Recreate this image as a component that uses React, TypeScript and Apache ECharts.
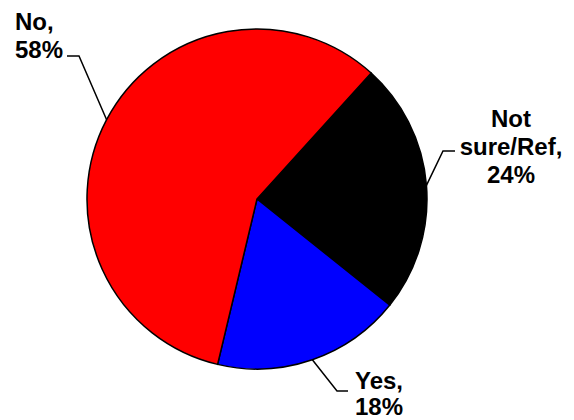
import React, { useEffect, useRef } from "react";
import * as echarts from "echarts";

const categories = ["Not sure/Ref", "Yes", "No"];
const labelTexts = ["Not\nsure/Ref", "Yes", "No"];
const values = [24, 18, 58];
const colors = ["#000000", "#0000FF", "#FF0000"];

// label placement (layout only)
const labelLayouts: Record<string, any> = {
  "Not sure/Ref": { x: 511, y: 104, align: "center", lineHeight: 28, elbow: [443, 151], end: [455, 151] },
  Yes: { x: 379, y: 367, align: "center", lineHeight: 26, elbow: [337, 391], end: [348, 391] },
  No: { x: 15, y: 7, align: "left", lineHeight: 28, elbow: [79, 56], end: [67, 56] },
};

export default function App() {
  const ref = useRef<HTMLDivElement>(null);
  useEffect(() => {
    if (!ref.current) return;
    const chart = echarts.init(ref.current, null, { renderer: "svg" });
    const data = categories.map((c, i) => ({
      name: c,
      value: values[i],
      itemStyle: { color: colors[i] },
      label: { lineHeight: labelLayouts[c].lineHeight },
    }));
    chart.setOption({
      animation: false,
      backgroundColor: "#ffffff",
      series: [
        {
          type: "pie",
          center: [257, 199],
          radius: 170,
          startAngle: 47.8,
          clockwise: true,
          avoidLabelOverlap: false,
          data,
          itemStyle: { borderColor: "#000000", borderWidth: 1.5 },
          emphasis: { disabled: true },
          label: {
            show: true,
            position: "outside",
            color: "#000000",
            fontFamily: "Liberation Sans, Arial, sans-serif",
            fontWeight: "bold",
            fontSize: 24,
            lineHeight: 28,
            formatter: (p: any) => {
              const idx = categories.indexOf(p.name);
              return `${labelTexts[idx]},\n${p.value}%`;
            },
          },
          labelLine: {
            show: true,
            length: 10,
            length2: 10,
            smooth: false,
            lineStyle: { color: "#000000", width: 1.5 },
          },
          labelLayout: (params: any) => {
            const name = categories[params.dataIndex];
            const L = labelLayouts[name];
            const anchor = params.labelLinePoints ? params.labelLinePoints[0] : L.elbow;
            return {
              x: L.x,
              y: L.y,
              align: L.align,
              verticalAlign: "top",
              labelLinePoints: [anchor, L.elbow, L.end],
            };
          },
        },
      ],
    });
    return () => chart.dispose();
  }, []);
  return (
    <div
      ref={ref}
      style={{ position: "fixed", left: 0, top: 0, width: 574, height: 420 }}
    />
  );
}
